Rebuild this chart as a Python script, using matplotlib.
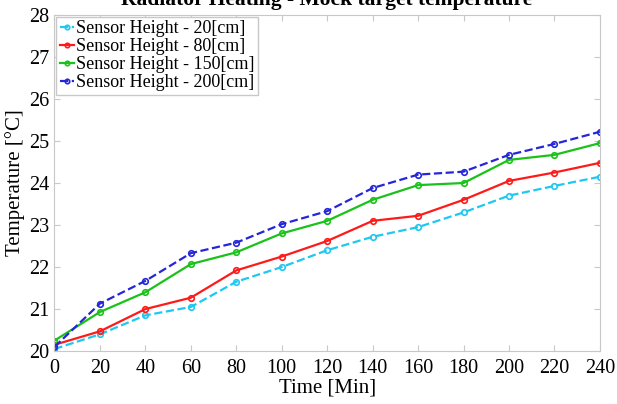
import matplotlib.pyplot as plt

# time in minutes
time = [0, 20, 40, 60, 80, 100, 120, 140, 160, 180, 200, 220, 240]

# temperatures at each sensor height
h20 = [20.05, 20.4, 20.85, 21.05, 21.65, 22.0, 22.4, 22.72, 22.95, 23.3, 23.7, 23.93, 24.15]
h80 = [20.15, 20.47, 21.0, 21.27, 21.92, 22.25, 22.62, 23.1, 23.22, 23.6, 24.05, 24.25, 24.48]
h150 = [20.25, 20.93, 21.4, 22.07, 22.35, 22.8, 23.1, 23.6, 23.95, 24.0, 24.55, 24.67, 24.95]
h200 = [20.1, 21.13, 21.67, 22.33, 22.58, 23.02, 23.33, 23.88, 24.2, 24.27, 24.67, 24.93, 25.22]

labels = ['Sensor Height - 20[cm]', 'Sensor Height - 80[cm]',
          'Sensor Height - 150[cm]', 'Sensor Height - 200[cm]']

plt.rcParams['font.family'] = 'Liberation Serif'

fig = plt.figure(figsize=(6.17, 4.04), dpi=100)
ax = fig.add_axes([0.0883, 0.131, 0.884, 0.832])

ax.plot(time, h20, '--o', color='#1ec8f0', lw=1.6, ms=4, mfc='none', mew=1.2, label=labels[0])
ax.plot(time, h80, '-o', color='#ff1a1a', lw=1.6, ms=4, mfc='none', mew=1.2, label=labels[1])
ax.plot(time, h150, '-o', color='#19c219', lw=1.6, ms=4, mfc='none', mew=1.2, label=labels[2])
ax.plot(time, h200, '--o', color='#2626d9', lw=1.6, ms=4, mfc='none', mew=1.2, label=labels[3])

ax.set_xlim(0, 240)
ax.set_ylim(20, 28)
ax.set_xticks(time)
ax.set_yticks(range(20, 29))
ax.tick_params(direction='in', top=True, right=True, labelsize=14.5, color='#c8c8c8', length=4)
ax.tick_params(axis='x', pad=6)
ax.tick_params(axis='y', pad=4)
for s in ax.spines.values():
    s.set_color('#c8c8c8')

ax.set_xlabel('Time [Min]', fontsize=15, labelpad=0)
ax.set_ylabel('Temperature [°C]', fontsize=15, labelpad=3)
fig.text(0.53, 0.988, 'Radiator Heating - Mock target temperature', ha='center', va='baseline',
         fontsize=15.5, fontweight='bold')

leg = ax.legend(loc='upper left', fontsize=13, handlelength=0.8, handletextpad=0.1,
                borderpad=0.2, labelspacing=0.05, fancybox=False, borderaxespad=0.1,
                markerscale=0.8)
leg.get_frame().set_edgecolor('#c8c8c8')
leg.get_frame().set_alpha(1)

fig.savefig('out.png', dpi=100)
